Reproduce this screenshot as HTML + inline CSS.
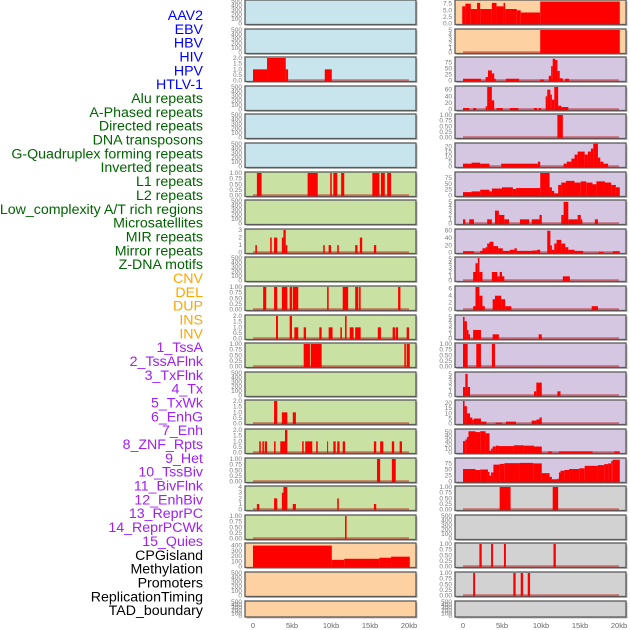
<!DOCTYPE html>
<html><head><meta charset="utf-8">
<style>
html,body{margin:0;padding:0;background:#fff;}
#wrap{position:relative;width:630px;height:630px;overflow:hidden;}
svg{position:absolute;left:0;top:0;}
</style></head>
<body>
<div id="wrap">
<svg id="chart" width="630" height="630"></svg>
</div>
<script>
const trackLabels = ["AAV2","EBV","HBV","HIV","HPV","HTLV-1","Alu repeats","A-Phased repeats","Directed repeats","DNA transposons","G-Quadruplex forming repeats","Inverted repeats","L1 repeats","L2 repeats","Low_complexity A/T rich regions","Microsatellites","MIR repeats","Mirror repeats","Z-DNA motifs","CNV","DEL","DUP","INS","INV","1_TssA","2_TssAFlnk","3_TxFlnk","4_Tx","5_TxWk","6_EnhG","7_Enh","8_ZNF_Rpts","9_Het","10_TssBiv","11_BivFlnk","12_EnhBiv","13_ReprPC","14_ReprPCWk","15_Quies","CPGisland","Methylation","Promoters","ReplicationTiming","TAD_boundary"];
const labelGroups = [0,0,0,0,0,0,1,1,1,1,1,1,1,1,1,1,1,1,1,2,2,2,2,2,3,3,3,3,3,3,3,3,3,3,3,3,3,3,3,4,4,4,4,4];
const groupColors = ["#0000ff","#006400","#ffa500","#a020f0","#000000"];
const xTickValues = [0,5,10,15,20];
const xTickLabels = ["0","5kb","10kb","15kb","20kb"];

const E = ["0","100","200","300","400","500"];
const B = ["0.00","0.25","0.50","0.75","1.00"];
const T2 = ["0.0","0.5","1.0","1.5","2.0"];
const F5 = ["0","1","2","3","4","5"];

const leftMax = [500,500,2,500,500,500,1,500,3,500,1,2,1,500,2,2,1,4,1,430,500,500];
const leftTicks = [E,E,T2,E,E,E,B,E,["0","1","2","3"],E,B,T2,B,E,T2,T2,B,["0","1","2","3","4"],B,["0","100","200","300","400"],E,E];
const leftBg = ["b","b","b","b","b","b","g","g","g","g","g","g","g","g","g","g","g","g","g","p","p","p"];
const leftSegs = [
 [],[],
 [[0,1.8,1],[1.8,4.2,2],[4.2,4.5,1],[9.2,10.1,1]],
 [],[],[],
 [[0.5,1.1,1],[7.0,8.3,1],[9.9,10.1,1],[10.3,10.8,1],[11.3,11.7,1],[15.3,16.2,1],[16.4,16.9,1],[17.2,17.7,1]],
 [],
 [[0.3,0.5,1],[2.2,2.4,2],[2.7,3.1,2],[3.7,3.9,2],[3.9,4.2,3],[4.2,4.4,1],[9.0,9.2,1],[9.7,10.0,1],[10.8,11.0,1],[13.1,13.4,1],[13.7,14.0,2],[15.5,15.8,1]],
 [],
 [[1.3,1.7,1],[2.7,3.1,1],[3.7,4.4,1],[4.7,5.0,1],[5.1,5.8,1],[9.5,9.7,1],[11.5,12.2,1],[13.1,13.5,1],[13.6,13.8,1],[18.6,18.9,1]],
 [[2.95,3.2,2],[4.7,5.0,2],[5.3,5.8,1],[6.5,6.8,1],[8.5,8.8,1],[9.7,10.2,1],[11.2,11.4,1],[11.8,12.0,2],[12.4,12.9,1],[13.1,13.8,1],[16.0,16.4,1],[17.9,18.2,1],[18.3,18.6,1],[19.7,20.0,1]],
 [[6.5,7.3,1],[7.4,8.8,1],[19.4,19.6,1],[19.7,20.1,1]],
 [],
 [[2.7,3.1,2],[3.7,4.4,1],[5.1,5.5,1]],
 [[0.8,1.0,1],[1.2,1.4,1],[1.5,1.8,1],[2.7,2.9,1],[3.5,4.1,1],[4.1,4.4,2],[6.3,6.5,1],[6.7,7.6,1],[8.1,8.3,1],[9.5,9.6,1],[10.3,10.6,1],[10.8,11.1,1],[11.5,11.8,1],[15.5,15.8,1],[16.3,16.7,1],[17.8,18.1,1],[18.8,19.1,1]],
 [[15.9,16.3,1],[17.8,18.3,1]],
 [[0.5,0.8,1],[2.7,3.1,2],[3.7,3.9,3],[3.9,4.4,4],[5.1,5.5,1],[10.8,11.0,2],[15.5,15.8,1]],
 [[11.8,12.0,1]],
 [[0,10.1,400],[10.1,11.7,130],[11.7,16.2,150],[16.2,17.7,170],[17.7,20.1,190]],
 [],[]
];

const rightMax = [8.5,5,93,68,1,22.5,95,5.2,62,5.2,6.5,5.2,1,5.2,22,55,93,1,500,1,1,500];
const rightTicks = [["0.0","2.5","5.0","7.5"],F5,["0","25","50","75"],["0","20","40","60"],B,["0","5","10","15","20"],["0","25","50","75"],F5,["0","20","40","60"],F5,["0","2","4","6"],F5,B,F5,["0","5","10","15","20"],["0","10","20","30","40","50"],["0","25","50","75"],B,E,B,B,E];
const rightBg = ["p","p","v","v","v","v","v","v","v","v","v","v","v","v","v","v","v","y","y","y","y","y"];
const rightSegs = [
 [[-0.1,0.3,6.5],[0.3,1.0,7.5],[1.0,1.8,5.5],[1.8,2.2,7.8],[2.2,3.7,5.5],[3.7,4.3,7.8],[4.3,5.2,6.5],[5.2,5.4,7.8],[5.4,6.9,5.5],[6.9,7.4,5.0],[7.4,9.9,4.2],[9.9,20.1,8.3]],
 [[9.9,20.1,5]],
 [[0,2.3,8],[2.9,3.2,15],[3.2,3.7,42],[3.7,4.0,30],[4.0,4.2,8],[5.5,7.2,8],[9.9,10.4,5],[11.0,11.3,20],[11.3,11.5,60],[11.5,11.8,90],[11.8,12.1,85],[12.1,12.4,40],[12.4,12.8,10],[13.1,13.6,8]],
 [[0,0.8,5],[1.3,1.7,5],[2.9,3.1,10],[3.1,3.7,68],[3.7,4.0,28],[4.3,5.1,5],[6.0,7.1,5],[9.1,9.5,5],[9.7,10.0,5],[10.6,10.8,40],[10.8,11.2,60],[11.2,11.4,45],[11.4,11.7,30],[11.7,12.2,68],[12.2,12.6,12],[12.6,13.5,8]],
 [[12.1,12.8,1]],
 [[0,1.1,3],[1.1,2.2,4],[2.2,3.4,3],[4.9,9.6,3],[9.6,9.9,5],[12.9,13.3,3],[13.3,13.9,5],[13.9,14.3,8],[14.3,14.7,12],[14.7,15.6,15],[15.6,16.0,12],[16.0,16.4,15],[16.4,16.7,18],[16.7,17.3,24],[17.3,17.6,9],[17.6,18.0,5],[18.0,18.6,3]],
 [[0,1.1,15],[1.1,2.2,18],[2.2,3.4,25],[3.4,3.7,18],[3.7,5.0,30],[5.0,6.4,35],[6.4,6.8,28],[6.8,9.9,32],[9.9,11.1,95],[11.1,11.4,35],[11.4,11.7,20],[11.7,12.2,10],[12.2,12.6,45],[12.6,13.2,55],[13.2,14.3,62],[14.3,15.1,55],[15.1,15.8,60],[15.8,16.6,55],[16.6,17.1,48],[17.1,18.2,60],[18.2,19.0,55],[19.0,19.6,45],[19.6,20.1,35]],
 [[0,0.3,1],[0.8,1.4,1],[3.1,3.7,1],[4.1,4.6,3],[4.6,5.3,2],[5.3,5.9,1],[7.3,8.5,1],[8.8,9.8,1],[9.8,10.1,2],[12.6,12.9,2],[12.9,13.5,5],[13.5,14.7,1],[14.7,15.1,2],[15.1,15.3,1],[16.9,17.3,1]],
 [[0,1.4,4],[2.2,2.5,5],[2.5,2.9,12],[2.9,3.1,15],[3.1,3.4,25],[3.4,3.9,30],[3.9,4.5,18],[4.5,5.1,12],[5.1,6.0,5],[6.0,6.6,8],[6.6,6.9,12],[6.9,8.9,5],[8.9,9.5,6],[9.5,9.9,8],[10.8,11.2,60],[11.2,11.4,20],[11.4,11.7,8],[11.7,12.0,25],[12.0,12.6,35],[12.6,13.1,25],[13.1,13.5,15],[13.5,14.3,8],[14.3,15.4,5],[17.4,18.0,2],[19.2,20.1,4]],
 [[1.3,1.6,2],[1.6,1.9,4],[1.9,2.1,5.2],[2.1,2.5,2],[3.7,4.4,2],[4.4,4.7,1],[4.7,5.0,2],[5.0,5.3,1],[12.8,13.7,1]],
 [[1.3,1.6,1],[1.6,2.1,6.5],[2.1,2.5,4],[2.5,2.8,1],[3.8,4.1,3],[4.1,4.9,4],[4.9,5.4,3],[5.4,6.2,1],[16.5,17.3,1]],
 [[0,0.2,5],[0.2,0.5,4],[0.5,0.7,2],[0.7,0.9,1],[1.3,2.3,2],[3.8,4.6,1],[9.7,10.1,1]],
 [[0,0.6,1],[1.7,2.3,1],[3.7,4.1,1]],
 [[0,0.3,2],[0.3,0.6,5],[0.6,0.9,2],[9.1,9.4,1],[9.4,10.1,3],[12.1,12.5,1]],
 [[0,0.2,22],[0.2,0.5,17],[0.5,0.9,10],[0.9,1.2,6],[1.2,1.4,4],[1.4,2.3,5],[2.3,3.0,2],[4.2,5.0,1],[5.5,6.8,2],[8.8,9.4,3],[9.4,9.8,4],[9.8,10.1,6]],
 [[0,0.3,28],[0.3,0.5,32],[0.5,0.7,38],[0.7,1.6,52],[1.6,2.2,50],[2.2,2.9,52],[2.9,3.4,47],[3.4,3.6,5],[3.6,3.8,10],[3.8,4.2,15],[4.2,4.6,17],[4.6,6.5,16],[6.5,7.8,18],[7.8,9.1,17],[9.1,10.1,15],[10.9,11.4,3],[12.3,16.6,3],[19.4,20.1,3]],
 [[0,1.6,52],[1.6,2.2,48],[2.2,3.2,50],[3.2,3.4,40],[3.4,3.6,25],[3.6,3.9,38],[3.9,4.7,70],[4.7,5.3,73],[5.3,7.3,76],[7.3,9.0,77],[9.0,10.1,75],[10.1,11.1,35],[11.1,11.4,20],[11.4,12.1,10],[12.1,12.3,12],[12.3,12.5,38],[12.5,13.0,45],[13.0,13.6,48],[13.6,14.9,52],[14.9,15.6,55],[15.6,17.3,65],[17.3,18.1,68],[18.1,18.6,72],[18.6,19.0,75],[19.0,19.2,85],[19.2,20.1,90]],
 [[4.7,6.1,1],[11.5,12.2,1]],
 [],
 [[2.1,2.4,1],[3.6,3.85,1],[5.25,5.5,1],[11.6,11.9,1]],
 [[1.3,1.55,1],[6.45,6.75,1],[7.4,7.7,1],[8.3,8.6,1]],
 []
];

const bgColors = {b:"#c8e4ec",g:"#c9e1a3",p:"#fdd1a2",v:"#d5c6e2",y:"#d2d2d2"};
const NS = "http://www.w3.org/2000/svg";
const svg = document.getElementById("chart");
function mk(tag, attrs){const e=document.createElementNS(NS,tag);for(const k in attrs)e.setAttribute(k,attrs[k]);return e;}

function rowTop(i){return Math.round(i*28.6);}
function rowH(i){return i===21?16:24.5;}
function xScale(col, kb){return (col===0?253:463) + kb*7.8;}
function yScale(i, v, max){const t=rowTop(i), h=rowH(i); const y0=t+h-0.8, y1=t+1; return y0-(v/max)*(y0-y1);}

trackLabels.forEach((lab,i)=>{
  const t=mk("text",{x:203,y:15+i*13.84+5,"text-anchor":"end","font-family":"Liberation Sans, DejaVu Sans, sans-serif","font-size":"14.2",fill:groupColors[labelGroups[i]]});
  t.textContent=lab;
  
  
  svg.appendChild(t);
});

function drawColumn(col, maxes, ticks, bgs, segs){
  const fx = col===0?245:455, fw=171;
  for(let i=0;i<22;i++){
    const t=rowTop(i), h=rowH(i);
    const g=mk("g",{});
    
    
    g.appendChild(mk("rect",{x:fx+1.5,y:t+1.5,width:fw,height:h,fill:"#b8b8b8"}));
    g.appendChild(mk("rect",{x:fx,y:t,width:fw,height:h,fill:bgColors[bgs[i]],stroke:"#5a5a5a","stroke-width":1.3}));
    const mx=maxes[i];
    const tk=ticks[i];
    tk.forEach(s=>{
      const v=parseFloat(s);
      const tt=mk("text",{x:fx-3,y:yScale(i,v,mx)+2,"text-anchor":"end","font-family":"Liberation Sans, DejaVu Sans, sans-serif","font-size":"6.5",fill:"#7a7a7a"});
      tt.textContent=s;
      
      
      g.appendChild(tt);
    });
    const sg=segs[i];
    if(sg.length){
      const y0=yScale(i,0,mx);
      g.appendChild(mk("rect",{x:xScale(col,0),y:y0-1.5,width:xScale(col,20)-xScale(col,0),height:2,fill:"rgba(190,0,0,0.45)"}));
      sg.forEach(s=>{
        const x1=xScale(col,s[0]), x2=xScale(col,s[1]);
        const yv=Math.max(yScale(i,s[2],mx),t+0.8);
        const r=mk("rect",{x:x1,y:yv,width:Math.max(x2-x1,1),height:y0-yv+0.5,fill:"#ff0000"});
        
        
        g.appendChild(r);
      });
    }
    svg.appendChild(g);
  }
  xTickValues.forEach((v,k)=>{
    const tx=mk("text",{x:xScale(col,v),y:628,"text-anchor":"middle","font-family":"Liberation Sans, DejaVu Sans, sans-serif","font-size":"7.5",fill:"#666"});
    tx.textContent=xTickLabels[k];
    
    
    svg.appendChild(tx);
  });
}
drawColumn(0,leftMax,leftTicks,leftBg,leftSegs);
drawColumn(1,rightMax,rightTicks,rightBg,rightSegs);
</script>
</body></html>
